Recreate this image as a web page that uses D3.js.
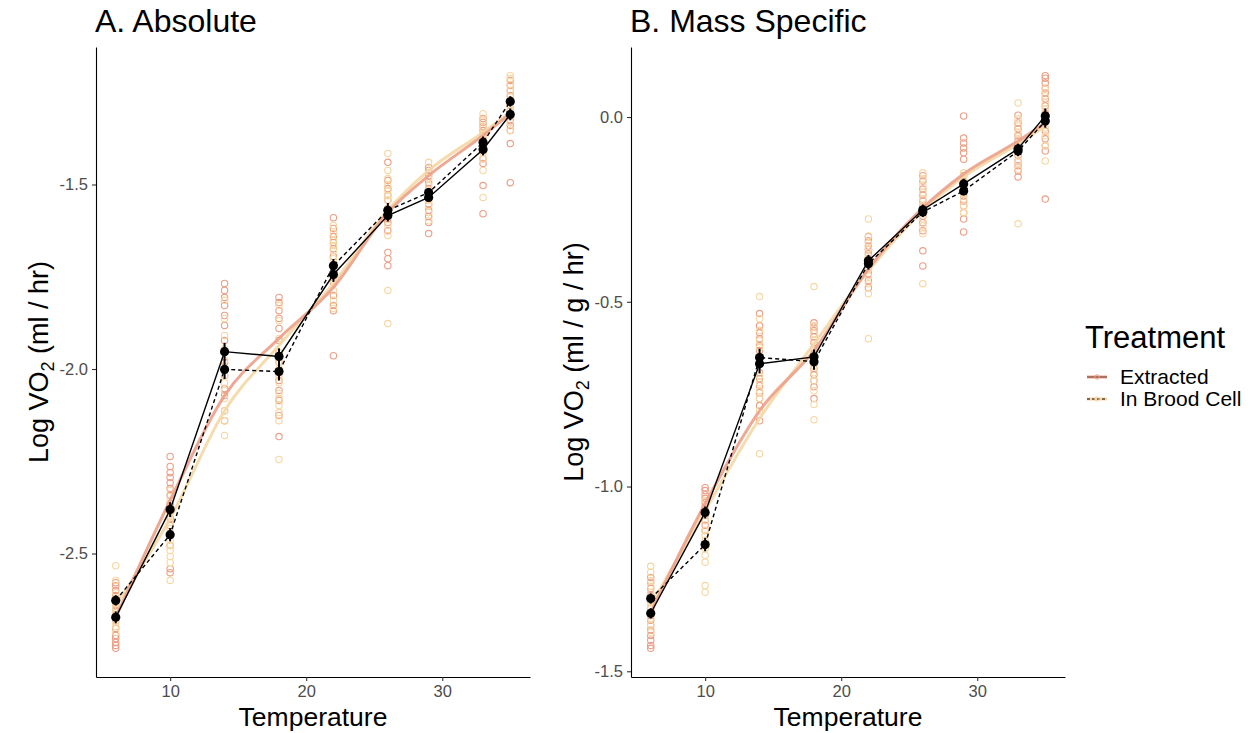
<!DOCTYPE html>
<html>
<head>
<meta charset="utf-8">
<script src="https://cdn.jsdelivr.net/npm/d3@7"></script>
<style>
body { margin: 0; background: #fff; }
text { font-family: "Liberation Sans", Arial, sans-serif; }
</style>
</head>
<body>
<script>
// temperatures measured
const temps = [6, 10, 14, 18, 22, 26, 29, 33, 35];
const treatments = ["Extracted", "In Brood Cell"];

// A. Absolute -- individual larvae, one array per temperature
const absExtracted = [
  [-2.579,-2.587,-2.600,-2.614,-2.627,-2.641,-2.654,-2.682,-2.703,-2.722,-2.730,-2.741,-2.749,-2.757],
  [-2.237,-2.264,-2.281,-2.294,-2.308,-2.324,-2.343,-2.365,-2.384,-2.405,-2.424,-2.451,-2.478,-2.541,-2.552],
  [-1.768,-1.787,-1.806,-1.828,-1.855,-1.882,-1.923,-1.950,-1.982,-2.018,-2.053,-2.072,-2.113,-2.140],
  [-1.806,-1.820,-1.842,-1.863,-1.890,-1.923,-1.955,-1.982,-2.010,-2.031,-2.058,-2.085,-2.126,-2.183],
  [-1.590,-1.619,-1.641,-1.657,-1.674,-1.695,-1.720,-1.747,-1.766,-1.801,-1.828,-1.842,-1.964],
  [-1.440,-1.489,-1.511,-1.530,-1.543,-1.565,-1.579,-1.592,-1.603,-1.625,-1.684,-1.701,-1.720],
  [-1.454,-1.462,-1.476,-1.495,-1.511,-1.524,-1.538,-1.552,-1.570,-1.587,-1.603,-1.633],
  [-1.321,-1.332,-1.343,-1.354,-1.367,-1.381,-1.394,-1.408,-1.430,-1.443,-1.503,-1.579],
  [-1.218,-1.232,-1.245,-1.259,-1.272,-1.286,-1.300,-1.313,-1.327,-1.340,-1.354,-1.389,-1.495]
];
const absBrood = [
  [-2.533,-2.573,-2.606,-2.622,-2.636,-2.649,-2.660,-2.673,-2.687,-2.698,-2.714],
  [-2.329,-2.356,-2.389,-2.416,-2.432,-2.449,-2.465,-2.478,-2.492,-2.508,-2.524,-2.573],
  [-1.814,-1.863,-1.909,-1.945,-1.977,-1.999,-2.018,-2.037,-2.058,-2.080,-2.113,-2.140,-2.180],
  [-1.828,-1.869,-1.917,-1.955,-1.982,-1.999,-2.018,-2.037,-2.066,-2.080,-2.099,-2.118,-2.140,-2.245],
  [-1.611,-1.633,-1.652,-1.665,-1.679,-1.701,-1.720,-1.739,-1.760,-1.787,-1.814,-1.836],
  [-1.416,-1.462,-1.484,-1.503,-1.516,-1.530,-1.543,-1.565,-1.584,-1.611,-1.638,-1.787,-1.877],
  [-1.440,-1.468,-1.484,-1.503,-1.516,-1.530,-1.543,-1.557,-1.576,-1.598],
  [-1.308,-1.327,-1.346,-1.362,-1.375,-1.386,-1.400,-1.413,-1.430,-1.462,-1.535],
  [-1.205,-1.213,-1.229,-1.245,-1.262,-1.272,-1.286,-1.300,-1.313,-1.332,-1.354]
];
const absMeanExtracted = [-2.673,-2.381,-1.953,-1.966,-1.744,-1.584,-1.535,-1.405,-1.310];
const absMeanBrood     = [-2.627,-2.449,-2.001,-2.007,-1.720,-1.570,-1.522,-1.386,-1.275];
const absSeExtracted   = [0.016,0.020,0.024,0.022,0.020,0.016,0.012,0.016,0.016];
const absSeBrood       = [0.014,0.018,0.026,0.024,0.018,0.020,0.012,0.016,0.014];
const absSmoothExtracted = [-2.673,-2.356,-2.072,-1.917,-1.779,-1.576,-1.476,-1.367,-1.308];
const absSmoothBrood     = [-2.641,-2.405,-2.113,-1.936,-1.768,-1.570,-1.462,-1.359,-1.305];

// B. Mass Specific
const massExtracted = [
  [-1.246,-1.259,-1.276,-1.295,-1.314,-1.330,-1.349,-1.362,-1.376,-1.389,-1.403,-1.416,-1.430,-1.438],
  [-1.003,-1.011,-1.022,-1.032,-1.043,-1.054,-1.065,-1.078,-1.092,-1.105,-1.119,-1.159],
  [-0.532,-0.565,-0.584,-0.600,-0.619,-0.632,-0.649,-0.692,-0.708,-0.727,-0.746,-0.762,-0.781,-0.822],
  [-0.557,-0.568,-0.578,-0.595,-0.611,-0.627,-0.646,-0.665,-0.681,-0.697,-0.714,-0.730,-0.762],
  [-0.324,-0.335,-0.349,-0.359,-0.370,-0.384,-0.395,-0.411,-0.424,-0.443,-0.462],
  [-0.159,-0.173,-0.195,-0.211,-0.227,-0.241,-0.254,-0.268,-0.286,-0.308,-0.362,-0.403],
  [0.003,-0.057,-0.070,-0.084,-0.097,-0.114,-0.159,-0.214,-0.227,-0.241,-0.259,-0.276,-0.311],
  [0.005,-0.016,-0.032,-0.051,-0.065,-0.078,-0.092,-0.105,-0.119,-0.132,-0.146,-0.162],
  [0.112,0.105,0.092,0.078,0.065,0.049,0.030,0.011,-0.011,-0.038,-0.059,-0.078,-0.092,-0.222]
];
const massBrood = [
  [-1.216,-1.232,-1.254,-1.270,-1.286,-1.300,-1.314,-1.327,-1.341,-1.357,-1.376,-1.395],
  [-1.038,-1.065,-1.092,-1.119,-1.132,-1.146,-1.168,-1.186,-1.205,-1.268,-1.286],
  [-0.486,-0.546,-0.578,-0.605,-0.624,-0.646,-0.665,-0.700,-0.719,-0.741,-0.762,-0.795,-0.911],
  [-0.459,-0.565,-0.586,-0.605,-0.632,-0.654,-0.673,-0.692,-0.714,-0.741,-0.778,-0.819],
  [-0.276,-0.322,-0.341,-0.357,-0.376,-0.395,-0.411,-0.430,-0.451,-0.478,-0.600],
  [-0.151,-0.168,-0.186,-0.205,-0.222,-0.241,-0.259,-0.276,-0.295,-0.316,-0.451],
  [-0.151,-0.168,-0.181,-0.195,-0.208,-0.222,-0.241,-0.259],
  [0.038,-0.005,-0.024,-0.043,-0.059,-0.078,-0.097,-0.119,-0.141,-0.289],
  [0.076,0.057,0.038,0.022,0.003,-0.011,-0.030,-0.051,-0.078,-0.119]
];
const massMeanExtracted = [-1.343,-1.070,-0.668,-0.649,-0.389,-0.251,-0.181,-0.086,0.003];
const massMeanBrood     = [-1.303,-1.157,-0.651,-0.662,-0.397,-0.257,-0.200,-0.092,-0.011];
const massSeExtracted   = [0.014,0.016,0.026,0.020,0.016,0.014,0.014,0.014,0.020];
const massSeBrood       = [0.014,0.018,0.024,0.022,0.016,0.014,0.012,0.014,0.018];
const massSmoothExtracted = [-1.341,-1.046,-0.795,-0.632,-0.411,-0.246,-0.154,-0.065,-0.016];
const massSmoothBrood     = [-1.322,-1.065,-0.816,-0.614,-0.416,-0.254,-0.162,-0.073,-0.024];

const xTicks = [10, 20, 30];
const absYTicks = [-2.5, -2.0, -1.5];
const massYTicks = [-1.5, -1.0, -0.5, 0.0];

const ptColor = { "Extracted": "#ec9f86", "In Brood Cell": "#f6d6a2" };
const lineColor = { "Extracted": "#eca088", "In Brood Cell": "#f4d7a4" };

const W = 1253, H = 733;
const svg = d3.select("body").append("svg")
  .attr("width", W)
  .attr("height", H);

const fmt = d3.formatLocale({decimal: ".", thousands: ",", grouping: [3], currency: ["", ""], minus: "-"}).format(".1f");

function drawPanel(cfg) {
  const left = cfg.left, right = cfg.left + 434, top = 47, bottom = 677;
  const g = svg.append("g");

  // ggplot style 5% expansion
  const xr = 35 - 6;
  const x = d3.scaleLinear().domain([6 - xr * 0.05, 35 + xr * 0.05]).range([left, right]);
  const all = d3.merge(cfg.extracted.concat(cfg.brood));
  const lo = d3.min(all), hi = d3.max(all);
  const yr = hi - lo;
  const y = d3.scaleLinear().domain([lo - yr * 0.05, hi + yr * 0.05]).range([bottom, top]);

  // raw points
  const series = [
    {name: "Extracted", pts: cfg.extracted, mean: cfg.meanE, se: cfg.seE, smooth: cfg.smoothE, dash: null},
    {name: "In Brood Cell", pts: cfg.brood, mean: cfg.meanB, se: cfg.seB, smooth: cfg.smoothB, dash: "4,3"}
  ];
  series.forEach(s => {
    const flat = [];
    s.pts.forEach((arr, i) => arr.forEach(v => flat.push({t: temps[i], v: v})));
    g.append("g").selectAll("circle")
      .data(flat)
      .enter().append("circle")
      .attr("cx", d => x(d.t))
      .attr("cy", d => y(d.v))
      .attr("r", 3.2)
      .attr("fill", "none")
      .attr("stroke", ptColor[s.name])
      .attr("stroke-width", 1.1);
  });

  // smooth fits
  const smoothLine = d3.line()
    .x((d, i) => x(temps[i]))
    .y(d => y(d))
    .curve(d3.curveMonotoneX);
  series.slice().reverse().forEach(s => {
    g.append("path")
      .attr("d", smoothLine(s.smooth))
      .attr("fill", "none")
      .attr("stroke", lineColor[s.name])
      .attr("stroke-width", 3)
      .attr("stroke-opacity", 0.9);
  });

  // means, error bars
  const meanLine = d3.line().x((d, i) => x(temps[i])).y(d => y(d));
  series.forEach(s => {
    g.append("path")
      .attr("d", meanLine(s.mean))
      .attr("fill", "none")
      .attr("stroke", "#000")
      .attr("stroke-width", 1.4)
      .attr("stroke-dasharray", s.dash);
    g.append("g").selectAll("line")
      .data(s.mean)
      .enter().append("line")
      .attr("x1", (d, i) => x(temps[i]))
      .attr("x2", (d, i) => x(temps[i]))
      .attr("y1", (d, i) => y(d - s.se[i]))
      .attr("y2", (d, i) => y(d + s.se[i]))
      .attr("stroke", "#000")
      .attr("stroke-width", 2);
    g.append("g").selectAll("circle")
      .data(s.mean)
      .enter().append("circle")
      .attr("cx", (d, i) => x(temps[i]))
      .attr("cy", d => y(d))
      .attr("r", 4.6)
      .attr("fill", "#000");
  });

  // axes
  const xAxis = g.append("g")
    .attr("transform", `translate(0,${bottom})`)
    .call(d3.axisBottom(x).tickValues(xTicks).tickSize(4).tickSizeOuter(0).tickPadding(4));
  const yAxis = g.append("g")
    .attr("transform", `translate(${left},0)`)
    .call(d3.axisLeft(y).tickValues(cfg.yTicks).tickFormat(fmt).tickSize(4).tickSizeOuter(0).tickPadding(4));
  [xAxis, yAxis].forEach(a => {
    a.select(".domain").attr("stroke", "#000").attr("stroke-width", 1.1);
    a.selectAll(".tick line").attr("stroke", "#333").attr("stroke-width", 1.1);
    a.selectAll(".tick text").attr("fill", "#4d4d4d").attr("font-size", 16.5)
      .attr("font-family", '"Liberation Sans", Arial, sans-serif');
  });

  // titles
  svg.append("text")
    .attr("x", left - 1)
    .attr("y", 32)
    .attr("font-size", 32)
    .attr("fill", "#000")
    .text(cfg.title);
  svg.append("text")
    .attr("x", (left + right) / 2)
    .attr("y", 726)
    .attr("text-anchor", "middle")
    .attr("font-size", 26.5)
    .text("Temperature");
  const yl = svg.append("text")
    .attr("transform", `translate(${left - 48},${(top + bottom) / 2}) rotate(-90)`)
    .attr("text-anchor", "middle")
    .attr("font-size", 27);
  yl.append("tspan").text("Log VO");
  yl.append("tspan").attr("font-size", 18).attr("dy", 6).text("2");
  yl.append("tspan").attr("dy", -6).text(cfg.unit);
}

drawPanel({left: 96, title: "A. Absolute", unit: " (ml / hr)", yTicks: absYTicks,
  extracted: absExtracted, brood: absBrood,
  meanE: absMeanExtracted, meanB: absMeanBrood, seE: absSeExtracted, seB: absSeBrood,
  smoothE: absSmoothExtracted, smoothB: absSmoothBrood});

drawPanel({left: 631, title: "B. Mass Specific", unit: " (ml / g / hr)", yTicks: massYTicks,
  extracted: massExtracted, brood: massBrood,
  meanE: massMeanExtracted, meanB: massMeanBrood, seE: massSeExtracted, seB: massSeBrood,
  smoothE: massSmoothExtracted, smoothB: massSmoothBrood});

// legend
const leg = svg.append("g").attr("transform", "translate(1085,0)");
leg.append("text")
  .attr("x", 0)
  .attr("y", 348)
  .attr("font-size", 31)
  .text("Treatment");
treatments.forEach((name, i) => {
  const ky = 377 + i * 22;
  leg.append("line")
    .attr("x1", 2).attr("x2", 22).attr("y1", ky).attr("y2", ky)
    .attr("stroke", lineColor[name]).attr("stroke-width", 3);
  leg.append("line")
    .attr("x1", 2).attr("x2", 22).attr("y1", ky).attr("y2", ky)
    .attr("stroke", "#000").attr("stroke-width", 1)
    .attr("stroke-dasharray", i === 1 ? "3,2" : null)
    .attr("stroke-opacity", i === 1 ? 1 : 0.55);
  leg.append("circle")
    .attr("cx", 12).attr("cy", ky).attr("r", 2.2)
    .attr("fill", "none").attr("stroke", ptColor[name]).attr("stroke-width", 1);
  leg.append("text")
    .attr("x", 35)
    .attr("y", ky + 7)
    .attr("font-size", 21)
    .text(name);
});
</script>
</body>
</html>
